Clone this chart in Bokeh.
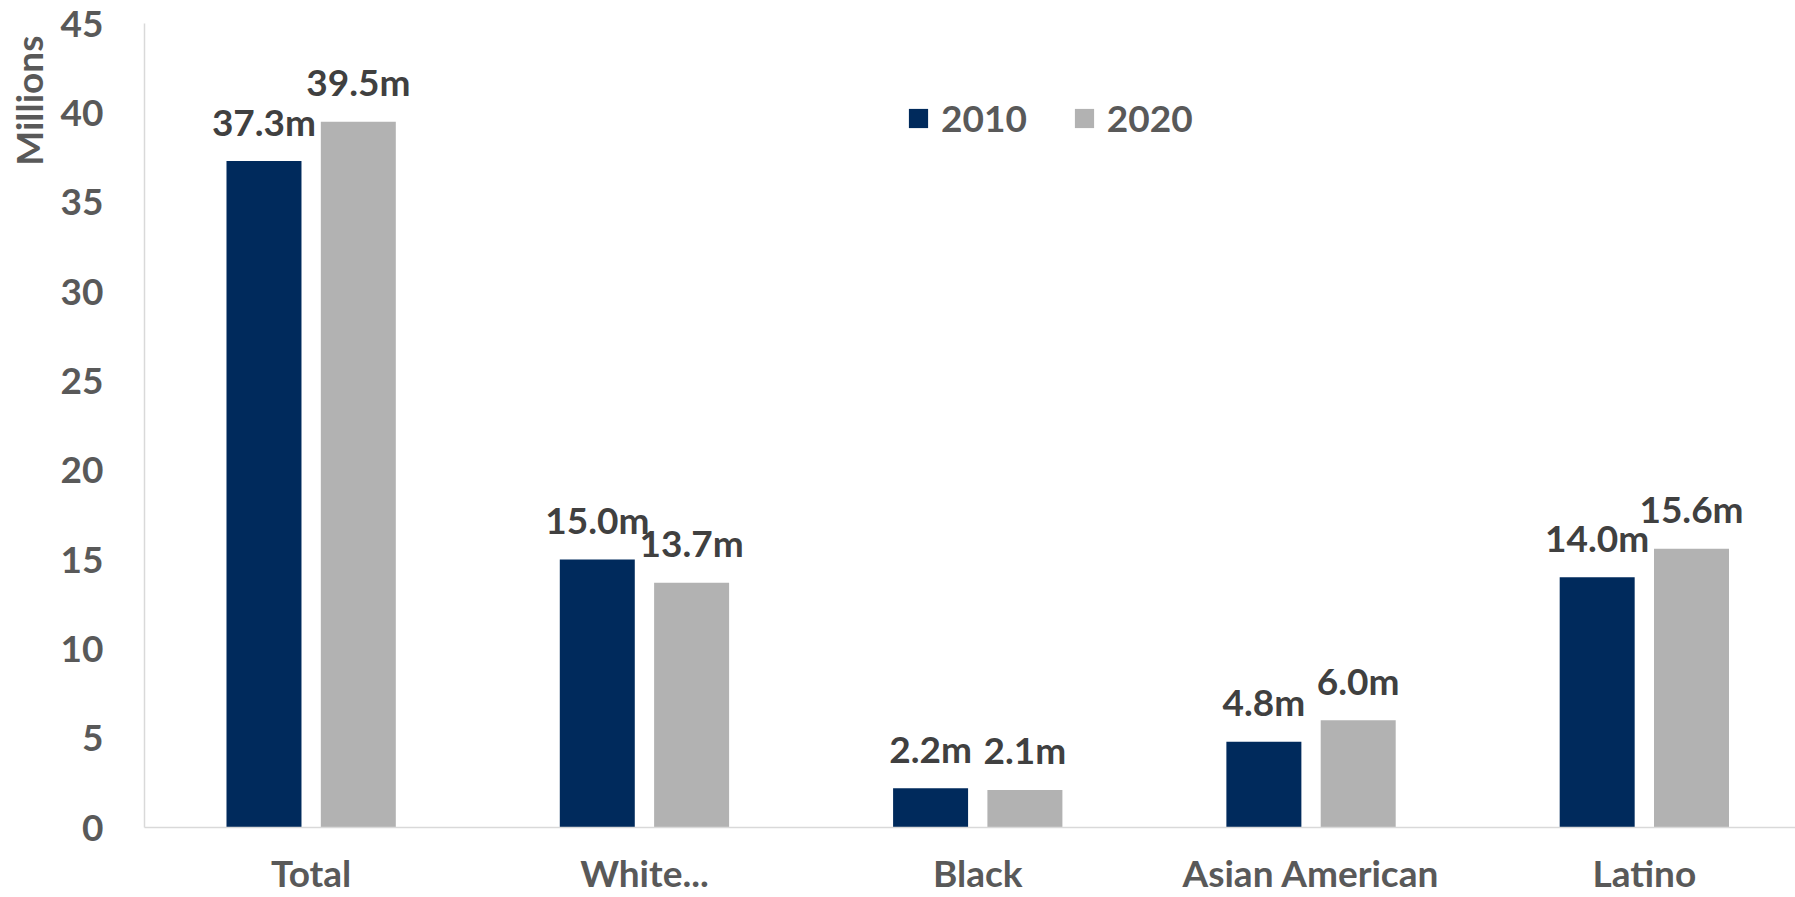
from bokeh.plotting import figure
from bokeh.models import (ColumnDataSource, Range1d, FixedTicker, Legend, LegendItem, Title)
from bokeh.transform import dodge
from bokeh.core.properties import value
from bokeh.embed import file_html
from bokeh.resources import INLINE

categories = ["Total", "White...", "Black", "Asian American", "Latino"]
pop_2010 = [37.3, 15.0, 2.2, 4.8, 14.0]
pop_2020 = [39.5, 13.7, 2.1, 6.0, 15.6]
y_ticks = [0, 5, 10, 15, 20, 25, 30, 35, 40, 45]

FONT = "Lato"
NAVY = "#002a5c"
GREY = "#b2b2b2"
TXT = "#595959"
LBL = "#404040"

xs = [i + 0.5 for i in range(len(categories))]
src = ColumnDataSource(dict(
    x=xs,
    cat=categories,
    v2010=pop_2010,
    v2020=pop_2020,
    t2010=[f"{v:.1f}m" for v in pop_2010],
    t2020=[f"{v:.1f}m" for v in pop_2020],
))

W, H = 1795, 897
LEFT, TOP, BOTTOM = 143, 23, 70
cat_px = 333.5
x_end = (W - LEFT) / cat_px

p = figure(width=W, height=H, output_backend="svg", toolbar_location=None,
           x_range=Range1d(0, x_end), y_range=Range1d(0, 45),
           min_border_left=LEFT, min_border_right=0, min_border_top=TOP,
           min_border_bottom=BOTTOM)
p.outline_line_color = None
p.background_fill_color = "white"
p.border_fill_color = "white"
p.xgrid.visible = False
p.ygrid.visible = False

bw = 0.225
off = 0.1415
r1 = p.vbar(x=dodge("x", -off), top="v2010", width=bw, source=src,
            fill_color=NAVY, line_color=None)
r2 = p.vbar(x=dodge("x", off), top="v2020", width=bw, source=src,
            fill_color=GREY, line_color=None)

for col, txt, d in (("v2010", "t2010", -off), ("v2020", "t2020", off)):
    p.text(x=dodge("x", d), y=col, text=txt, source=src,
           text_align="center", text_baseline="alphabetic", y_offset=-40,
           text_font=value(FONT), text_font_style="bold", text_font_size="37px",
           text_color=LBL)

# axes
p.yaxis.ticker = FixedTicker(ticks=y_ticks)
p.yaxis.major_tick_line_color = None
p.yaxis.minor_tick_line_color = None
p.yaxis.axis_line_color = "#d9d9d9"
p.yaxis.axis_line_width = 1.5
p.yaxis.major_label_standoff = 35
p.yaxis.major_label_text_font = FONT
p.yaxis.major_label_text_font_style = "bold"
p.yaxis.major_label_text_font_size = "37px"
p.yaxis.major_label_text_color = TXT

p.xaxis.ticker = FixedTicker(ticks=xs)
p.xaxis.major_label_overrides = {x: c for x, c in zip(xs, categories)}
p.xaxis.major_tick_line_color = None
p.xaxis.minor_tick_line_color = None
p.xaxis.axis_line_color = "#d9d9d9"
p.xaxis.axis_line_width = 1.5
p.xaxis.major_label_standoff = 16
p.xaxis.major_label_text_font = FONT
p.xaxis.major_label_text_font_style = "bold"
p.xaxis.major_label_text_font_size = "37px"
p.xaxis.major_label_text_color = TXT

ytitle = Title(text="Millions", align="right", vertical_align="top",
               offset=12, standoff=10,
               text_font=FONT, text_font_style="bold", text_font_size="37px",
               text_color=TXT)
p.add_layout(ytitle, "left")

legend = Legend(items=[LegendItem(label="2010", renderers=[r1]),
                       LegendItem(label="2020", renderers=[r2])],
                orientation="horizontal", location=(762, 687),
                glyph_width=24, glyph_height=24, label_height=24,
                label_standoff=11, spacing=45, padding=0, margin=0,
                border_line_color=None, background_fill_alpha=0,
                label_text_font=FONT, label_text_font_style="bold",
                label_text_font_size="37px", label_text_color=TXT)
p.add_layout(legend)

open("out.html", "w").write(file_html(p, INLINE))
